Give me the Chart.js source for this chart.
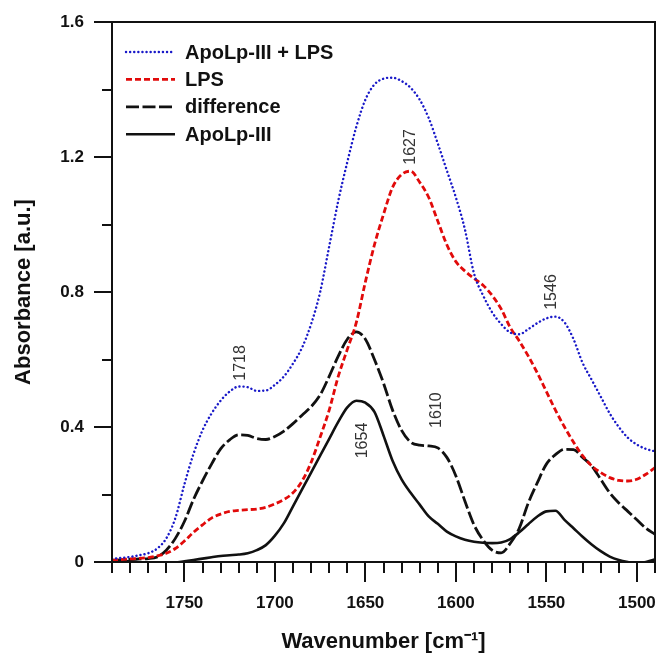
<!DOCTYPE html>
<html>
<head>
<meta charset="utf-8">
<script src="https://cdn.jsdelivr.net/npm/chart.js@4"></script>
<style>
  body { margin: 0; background: #fff; }
</style>
</head>
<body>
<canvas id="myChart" width="659" height="655"></canvas>
<script>
// wavenumber grid (cm-1), every 5 units
const wavenumbers = [
  1790, 1785, 1780, 1775, 1770, 1765, 1760, 1755, 1750, 1745,
  1740, 1735, 1730, 1725, 1720, 1715, 1710, 1705, 1700, 1695,
  1690, 1685, 1680, 1675, 1670, 1665, 1660, 1655, 1650, 1645,
  1640, 1635, 1630, 1625, 1620, 1615, 1610, 1605, 1600, 1595,
  1590, 1585, 1580, 1575, 1570, 1565, 1560, 1555, 1550, 1545,
  1540, 1535, 1530, 1525, 1520, 1515, 1510, 1505, 1500, 1495,
  1490,
];

const apoLps = [
  0.010, 0.012, 0.015, 0.020, 0.026, 0.040, 0.070, 0.130, 0.230, 0.320,
  0.390, 0.440, 0.478, 0.505, 0.520, 0.518, 0.507, 0.508, 0.525, 0.550,
  0.588, 0.635, 0.705, 0.800, 0.935, 1.070, 1.185, 1.290, 1.370, 1.415,
  1.432, 1.435, 1.425, 1.405, 1.370, 1.315, 1.240, 1.160, 1.080, 0.985,
  0.855, 0.790, 0.740, 0.705, 0.680, 0.675, 0.690, 0.708, 0.722, 0.727,
  0.710, 0.660, 0.590, 0.540, 0.490, 0.440, 0.400, 0.368, 0.348, 0.335,
  0.328,
];

const lps = [
  0.005, 0.007, 0.009, 0.011, 0.013, 0.018, 0.026, 0.040, 0.062, 0.088,
  0.110, 0.130, 0.142, 0.150, 0.153, 0.155, 0.157, 0.162, 0.172, 0.185,
  0.205, 0.240, 0.295, 0.370, 0.450, 0.550, 0.630, 0.710, 0.830, 0.940,
  1.030, 1.110, 1.148, 1.158, 1.125, 1.080, 1.010, 0.940, 0.890, 0.862,
  0.840, 0.820, 0.790, 0.750, 0.695, 0.655, 0.610, 0.560, 0.505, 0.450,
  0.400, 0.355, 0.315, 0.285, 0.265, 0.250, 0.242, 0.240, 0.245, 0.260,
  0.280,
];

const difference = [
  0.005, 0.006, 0.008, 0.009, 0.010, 0.015, 0.035, 0.070, 0.120, 0.185,
  0.240, 0.290, 0.335, 0.362, 0.377, 0.375, 0.366, 0.363, 0.372, 0.388,
  0.410, 0.435, 0.460, 0.495, 0.550, 0.610, 0.660, 0.682, 0.660, 0.600,
  0.530, 0.450, 0.390, 0.355, 0.346, 0.344, 0.338, 0.310, 0.255, 0.180,
  0.110, 0.065, 0.035, 0.027, 0.055, 0.100, 0.175, 0.235, 0.290, 0.318,
  0.334, 0.333, 0.310, 0.285, 0.245, 0.205, 0.175, 0.150, 0.125, 0.100,
  0.082,
];

const apoLp = [
  0.004, 0.003, 0.002, 0.000, -0.002, -0.004, -0.004, -0.002, 0.002, 0.006,
  0.010, 0.014, 0.018, 0.020, 0.022, 0.026, 0.035, 0.050, 0.078, 0.115,
  0.165, 0.215, 0.265, 0.315, 0.365, 0.415, 0.458, 0.478, 0.472, 0.445,
  0.375, 0.300, 0.245, 0.205, 0.170, 0.135, 0.113, 0.090, 0.076, 0.066,
  0.060, 0.057, 0.056, 0.058, 0.068, 0.088, 0.112, 0.135, 0.150, 0.152,
  0.125, 0.100, 0.075, 0.052, 0.032, 0.016, 0.006, 0.000, -0.004, 0.000,
  0.008,
];

const seriesNames = ["ApoLp-III + LPS", "LPS", "difference", "ApoLp-III"];

// band labels: wavenumber text and where it sits (x in cm-1, y in a.u.)
const peakLabels = ["1718", "1627", "1546", "1610", "1654"];
const peakLabelX = [1719, 1625, 1547, 1610.7, 1651.5];
const peakLabelY = [0.59, 1.23, 0.80, 0.45, 0.36];

const xMajor = 50, xMinor = 10;
const yMajor = 0.4, yMinor = 0.2;

const FONT = "Arial, 'Liberation Sans', Helvetica, sans-serif";

function toPoints(vals) {
  return wavenumbers.map((w, i) => ({ x: w, y: vals[i] }));
}

// frame, ticks, legend and band labels
const decorations = {
  id: "decorations",
  afterDraw(chart) {
    const { ctx, chartArea: a, scales } = chart;
    const xs = scales.x, ys = scales.y;
    ctx.save();
    ctx.strokeStyle = "#111";
    ctx.lineWidth = 2;
    ctx.setLineDash([]);
    ctx.strokeRect(a.left, a.top, a.right - a.left, a.bottom - a.top);

    ctx.beginPath();
    xs.ticks.forEach((t) => {
      const px = Math.round(xs.getPixelForValue(t.value));
      const len = t.value % xMajor === 0 ? 20 : 11;
      ctx.moveTo(px, a.bottom);
      ctx.lineTo(px, a.bottom + len);
    });
    for (let k = 0; k <= Math.round(ys.max / yMinor); k++) {
      const py = Math.round(ys.getPixelForValue(k * yMinor));
      const len = k % 2 === 0 ? 18 : 10;
      ctx.moveTo(a.left, py);
      ctx.lineTo(a.left - len, py);
    }
    ctx.stroke();

    // legend
    ctx.font = "bold 20px " + FONT;
    ctx.textBaseline = "middle";
    ctx.textAlign = "left";
    chart.data.datasets.forEach((ds, i) => {
      const y = a.top + 30 + i * 27.4;
      ctx.strokeStyle = ds.borderColor;
      ctx.lineWidth = ds.borderWidth;
      ctx.lineCap = ds.borderCapStyle || "butt";
      ctx.setLineDash(ds.borderDash || []);
      ctx.beginPath();
      ctx.moveTo(a.left + 14, y);
      ctx.lineTo(a.left + 63, y);
      ctx.stroke();
      ctx.fillStyle = "#111";
      ctx.fillText(ds.label, a.left + 73, y + 1);
    });

    // band labels, rotated
    ctx.setLineDash([]);
    ctx.font = "16px " + FONT;
    ctx.fillStyle = "#333";
    ctx.textAlign = "center";
    peakLabels.forEach((t, i) => {
      const px = xs.getPixelForValue(peakLabelX[i]);
      const py = ys.getPixelForValue(peakLabelY[i]);
      ctx.save();
      ctx.translate(px, py);
      ctx.rotate(-Math.PI / 2);
      ctx.fillText(t, 0, 0);
      ctx.restore();
    });
    ctx.restore();
  },
};

// tick marks are drawn by the plugin; the library's marks only reserve room
const hiddenTicks = (len) => ({
  display: true,
  drawOnChartArea: false,
  drawTicks: true,
  tickLength: len,
  tickColor: "rgba(0,0,0,0)",
});

new Chart(document.getElementById("myChart"), {
  type: "line",
  data: {
    datasets: [
      {
        label: seriesNames[0],
        data: toPoints(apoLps),
        borderColor: "rgb(25, 25, 200)",
        borderWidth: 2.4,
        borderCapStyle: "round",
        borderDash: [0.1, 4],
      },
      {
        label: seriesNames[1],
        data: toPoints(lps),
        borderColor: "rgb(225, 10, 10)",
        borderWidth: 2.8,
        borderDash: [6, 3],
      },
      {
        label: seriesNames[2],
        data: toPoints(difference),
        borderColor: "#111",
        borderWidth: 2.8,
        borderDash: [13, 3.5],
      },
      {
        label: seriesNames[3],
        data: toPoints(apoLp),
        borderColor: "#111",
        borderWidth: 2.6,
      },
    ],
  },
  options: {
    responsive: false,
    animation: false,
    layout: { padding: { top: 22, right: 4, left: 7, bottom: 0 } },
    elements: {
      point: { radius: 0 },
      line: { cubicInterpolationMode: "monotone", fill: false },
    },
    plugins: {
      legend: { display: false },
      tooltip: { enabled: false },
    },
    scales: {
      x: {
        type: "linear",
        reverse: true,
        min: 1490,
        max: 1790,
        grid: hiddenTicks(31),
        border: { display: false },
        ticks: {
          stepSize: xMinor,
          autoSkip: false,
          maxRotation: 0,
          padding: 0,
          color: "#111",
          font: { family: FONT, size: 17, weight: "bold" },
          callback: (v) => (v % xMajor === 0 ? String(v) : ""),
        },
        title: {
          display: true,
          text: "Wavenumber [cm\u207B\u00B9]",
          color: "#111",
          padding: { top: 0, bottom: 0 },
          font: { family: FONT, size: 22, weight: "bold" },
        },
        afterFit(s) { s.height = 93; },
      },
      y: {
        min: 0,
        max: 1.6,
        grid: hiddenTicks(28),
        border: { display: false },
        ticks: {
          stepSize: yMajor,
          padding: 0,
          color: "#111",
          font: { family: FONT, size: 17, weight: "bold" },
          callback: (v) => (v === 0 ? "0" : v.toFixed(1)),
        },
        title: {
          display: true,
          text: "Absorbance [a.u.]",
          color: "#111",
          padding: { top: 4, bottom: 0 },
          font: { family: FONT, size: 22, weight: "bold" },
        },
        afterFit(s) { s.width = 105; },
      },
    },
  },
  plugins: [decorations],
});
</script>
</body>
</html>
